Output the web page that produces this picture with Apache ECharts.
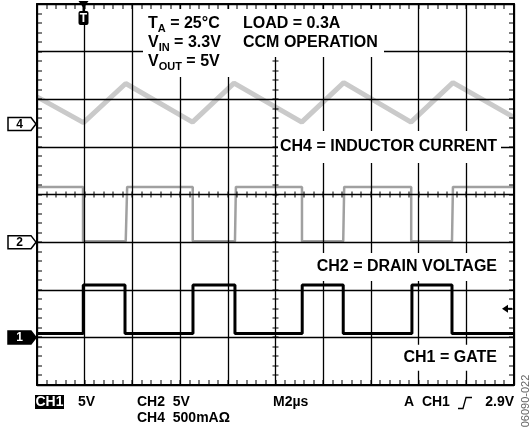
<!DOCTYPE html>
<html><head><meta charset="utf-8">
<script src="https://cdn.jsdelivr.net/npm/echarts@6/dist/echarts.min.js"></script>
<style>html,body{margin:0;padding:0;background:#fff}#c{width:531px;height:433px}</style>
</head><body><div id="c"></div>
<script>
// x in time divisions (M = 2 µs/div), y in vertical divisions (0..8)
const gateX  = [0, 0.97, 0.97, 1.845, 1.845, 3.27, 3.27, 4.15, 4.15, 5.56, 5.56, 6.42, 6.42, 7.86, 7.86, 8.70, 8.70, 10];
const gateY  = [1.08, 1.08, 2.1, 2.1, 1.08, 1.08, 2.1, 2.1, 1.08, 1.08, 2.1, 2.1, 1.08, 1.08, 2.1, 2.1, 1.08, 1.08];
const drainX = [0, 0.965, 0.965, 1.86, 1.89, 3.265, 3.265, 4.15, 4.17, 5.555, 5.555, 6.42, 6.44, 7.845, 7.845, 8.70, 8.72, 10];
const drainY = [4.16, 4.16, 3.02, 3.02, 4.16, 4.16, 3.02, 3.02, 4.16, 4.16, 3.02, 3.02, 4.16, 4.16, 3.02, 3.02, 4.16, 4.16];
const indX   = [0, 0.975, 1.86, 3.26, 4.13, 5.55, 6.43, 7.84, 8.72, 10];
const indY   = [6.05, 5.51, 6.33, 5.52, 6.34, 5.52, 6.35, 5.52, 6.35, 5.62];
const chLabels = ['4', '2', '1'];
const chLevels = [5.48, 3, 1];
const chFilled = [false, false, true];
const triggerTime = 0.975;
const triggerLevel = 1.6;
const noteLines = [
  ['{b|T}{s|A}{b| = 25°C}', '{b|LOAD = 0.3A}'],
  ['{b|V}{s|IN}{b| = 3.3V}', '{b|CCM OPERATION}'],
  ['{b|V}{s|OUT}{b| = 5V}', '']
];
const traceNotes = ['CH4 = INDUCTOR CURRENT', 'CH2 = DRAIN VOLTAGE', 'CH1 = GATE'];
const traceNoteLevels = [5.0, 2.48, 0.57];
const xDivs = 10, yDivs = 8, subDivs = 5;

const zip = (a, b) => a.map((v, i) => [v, b[i]]);
const BOLD = 'bold 16px "Liberation Sans", Arial, sans-serif';
const chart = echarts.init(document.getElementById('c'), null, {renderer: 'canvas'});

function ax(pos, max, split) {
  return {
    type: 'value', position: pos, min: 0, max: max, interval: 1, z: 3,
    axisLabel: {show: false},
    axisLine: {show: true, onZero: false, lineStyle: {color: '#000', width: 2}},
    axisTick: {show: false},
    splitLine: {show: split, lineStyle: {color: '#000', width: 1.3}}
  };
}
chart.setOption({
  animation: false,
  backgroundColor: '#fff',
  grid: {left: 37, top: 4, width: 477, height: 381},
  xAxis: [ax('bottom', xDivs, true), ax('top', xDivs, false)],
  yAxis: [ax('left', yDivs, true), ax('right', yDivs, false)],
  series: [
    {name: 'CH4', type: 'line', data: zip(indX, indY), symbol: 'none', z: 1, lineStyle: {color: '#cacaca', width: 5}},
    {name: 'CH2', type: 'line', data: zip(drainX, drainY), symbol: 'none', z: 1, lineStyle: {color: '#a0a0a0', width: 2.5}},
    {name: 'CH1', type: 'line', data: zip(gateX, gateY), symbol: 'none', z: 1, lineStyle: {color: '#000', width: 3}}
  ]
});

const px = (x, y) => chart.convertToPixel({gridIndex: 0}, [x, y]);
const g = [];
// tick drawn as a 1px filled rect
const tickRect = (x, y, w, h) => g.push({type: 'rect', z: 9, shape: {x: x, y: y, width: w, height: h}, style: {fill: '#000'}});
// graticule sub-division ticks (border inside + centre crosshair)
const bl = px(0, 0), tr = px(xDivs, yDivs), ctr = px(xDivs / 2, yDivs / 2);
for (let i = 1; i < xDivs * subDivs; i++) {
  const x = Math.round(px(i / subDivs, 0)[0]) - 0.5;
  tickRect(x, bl[1] - 5, 1, 5);
  tickRect(x, tr[1], 1, 5);
  tickRect(x, ctr[1] - 3, 1, 6);
}
for (let j = 1; j < yDivs * subDivs; j++) {
  const y = Math.round(px(0, j / subDivs)[1]) - 0.5;
  tickRect(bl[0], y, 5, 1);
  tickRect(tr[0] - 5, y, 5, 1);
  tickRect(ctr[0] - 3, y, 6, 1);
}
const rich = {
  b: {fontSize: 16, fontWeight: 'bold', fontFamily: '"Liberation Sans", Arial', lineHeight: 20, verticalAlign: 'middle', fill: '#000'},
  s: {fontSize: 11, fontWeight: 'bold', fontFamily: '"Liberation Sans", Arial', lineHeight: 12, verticalAlign: 'bottom', fill: '#000'}
};
// white boxes behind notes
[[143, 9, 88, 68], [230, 9, 154, 48]].forEach(r => g.push({type: 'rect', z: 10, shape: {x: r[0], y: r[1], width: r[2], height: r[3]}, style: {fill: '#fff'}}));
noteLines.forEach((ln, i) => {
  const yc = 24 + i * 19;
  g.push({type: 'text', z: 11, x: 148, y: yc, style: {text: ln[0], rich: rich, verticalAlign: 'middle', align: 'left'}});
  if (ln[1]) g.push({type: 'text', z: 11, x: 243, y: yc, style: {text: ln[1], rich: rich, verticalAlign: 'middle', align: 'left'}});
});
// trace notes
const noteBoxes = [[278, 32], [310, 28], [395, 26]];
traceNotes.forEach((t, i) => {
  const yc = px(xDivs, traceNoteLevels[i])[1];
  g.push({type: 'rect', z: 10, shape: {x: noteBoxes[i][0], y: yc - noteBoxes[i][1] / 2, width: 501 - noteBoxes[i][0], height: noteBoxes[i][1]}, style: {fill: '#fff'}});
  g.push({type: 'text', z: 11, x: 497, y: yc, style: {text: t, font: BOLD, fill: '#000', align: 'right', verticalAlign: 'middle'}});
});
// channel ground markers
chLabels.forEach((lab, i) => {
  const c = px(0, chLevels[i])[1];
  g.push({type: 'polygon', z: 12, shape: {points: [[8, c - 6.5], [31, c - 6.5], [36, c], [31, c + 6.5], [8, c + 6.5]]},
    style: {fill: chFilled[i] ? '#000' : '#fff', stroke: '#000', lineWidth: 1.5}});
  g.push({type: 'text', z: 13, x: 19.5, y: c + 0.5, style: {text: lab, font: 'bold 12px "Liberation Sans", Arial', fill: chFilled[i] ? '#fff' : '#000', align: 'center', verticalAlign: 'middle'}});
});
// trigger position marker
const tx = px(triggerTime, yDivs)[0];
g.push({type: 'polygon', z: 12, shape: {points: [[tx - 5, 1], [tx + 5, 1], [tx, 8]]}, style: {fill: '#000'}});
g.push({type: 'rect', z: 12, shape: {x: tx - 1, y: 6, width: 2, height: 6}, style: {fill: '#000'}});
g.push({type: 'rect', z: 12, shape: {x: tx - 5, y: 11, width: 10, height: 14, r: 2}, style: {fill: '#000'}});
g.push({type: 'text', z: 13, x: tx, y: 18.5, style: {text: 'T', font: 'bold 12px "Liberation Sans", Arial', fill: '#fff', align: 'center', verticalAlign: 'middle'}});
// trigger level marker
const ty = px(xDivs, triggerLevel)[1];
g.push({type: 'polygon', z: 12, shape: {points: [[502, ty], [508, ty - 4], [508, ty + 4]]}, style: {fill: '#000'}});
g.push({type: 'rect', z: 12, shape: {x: 507, y: ty - 1, width: 5, height: 2}, style: {fill: '#000'}});
// bottom readouts
const F2 = 'bold 14px "Liberation Sans", Arial';
g.push({type: 'rect', z: 12, shape: {x: 35, y: 395, width: 29, height: 14}, style: {fill: '#000'}});
g.push({type: 'text', z: 13, x: 49.5, y: 402.5, style: {text: 'CH1', font: F2, fill: '#fff', align: 'center', verticalAlign: 'middle'}});
g.push({type: 'text', z: 13, x: 78, y: 402.5, style: {text: '5V', font: F2, fill: '#000', verticalAlign: 'middle'}});
g.push({type: 'text', z: 13, x: 137, y: 402.5, style: {text: 'CH2  5V', font: F2, fill: '#000', verticalAlign: 'middle'}});
g.push({type: 'text', z: 13, x: 137, y: 418, style: {text: 'CH4  500mAΩ', font: F2, fill: '#000', verticalAlign: 'middle'}});
g.push({type: 'text', z: 13, x: 273, y: 402.5, style: {text: 'M2µs', font: F2, fill: '#000', verticalAlign: 'middle'}});
g.push({type: 'text', z: 13, x: 404, y: 402.5, style: {text: 'A  CH1', font: F2, fill: '#000', verticalAlign: 'middle'}});
g.push({type: 'polyline', z: 13, shape: {points: [[458, 408.5], [463, 408.5], [466, 397.5], [472, 397.5]]}, style: {stroke: '#000', lineWidth: 1.3, fill: null}});
g.push({type: 'text', z: 13, x: 514, y: 402.5, style: {text: '2.9V', font: F2, fill: '#000', align: 'right', verticalAlign: 'middle'}});
g.push({type: 'text', z: 13, x: 526, y: 401, rotation: Math.PI / 2, style: {text: '06090-022', font: '11px "Liberation Sans", Arial', fill: '#666', align: 'center', verticalAlign: 'middle'}});
chart.setOption({graphic: {elements: g}});
</script></body></html>
